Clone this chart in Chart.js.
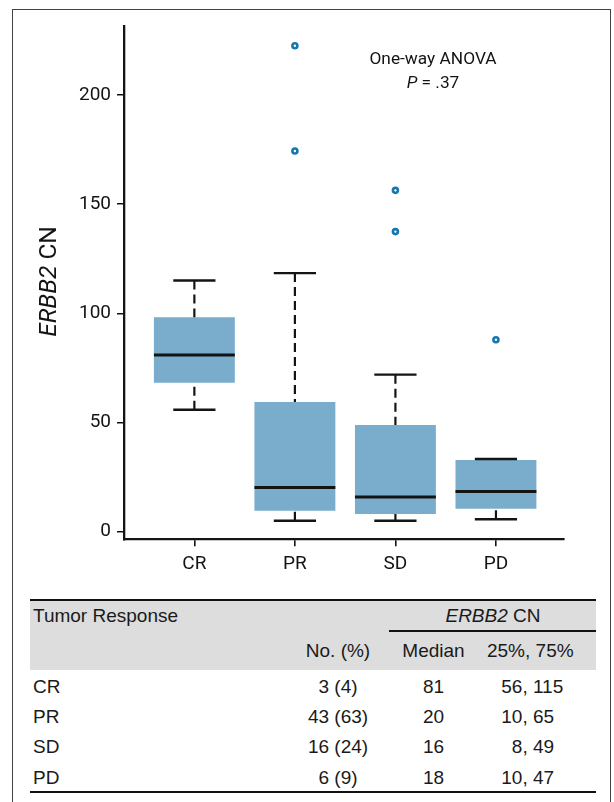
<!DOCTYPE html>
<html>
<head>
<meta charset="utf-8">
<script src="https://cdn.jsdelivr.net/npm/chart.js@4.4.1/dist/chart.umd.min.js"></script>
<style>
html,body{margin:0;padding:0;background:#fff;}
body{width:614px;height:802px;position:relative;overflow:hidden;font-family:"Liberation Sans",Arial,Helvetica,sans-serif;color:#1a1a1a;}
#frame{position:absolute;left:11.5px;top:8.7px;width:599px;height:830px;border:1.5px solid #444;box-sizing:border-box;}
#chart{position:absolute;left:0;top:0;}
.t{position:absolute;font-size:19px;line-height:30px;height:30px;white-space:pre;}
.c{text-align:center;width:200px;}
.r{text-align:right;}
.rule{position:absolute;background:#111;}
#gray{position:absolute;left:30px;top:601.3px;width:566px;height:68.7px;background:#dddddd;}
</style>
</head>
<body>
<div id="frame"></div>
<canvas id="chart" width="614" height="592"></canvas>
<div id="gray"></div>
<div class="rule" style="left:30px;top:599.4px;width:566px;height:2px;"></div>
<div class="rule" style="left:388.7px;top:630px;width:207.3px;height:2px;"></div>
<div class="rule" style="left:30px;top:790.7px;width:566px;height:2px;"></div>
<div id="table"></div>
<script>
// ---------- DATA ----------
const categories   = ['CR', 'PR', 'SD', 'PD'];
const whiskerLow   = [55.8, 5.0, 5.0, 5.7];
const q1           = [68.2, 9.6, 8.1, 10.5];
const medians      = [80.9, 20.2, 15.9, 18.4];
const q3           = [98.2, 59.4, 48.9, 32.8];
const whiskerHigh  = [115.0, 118.4, 71.9, 33.3];
const outliers     = [[], [222.5, 174.3], [156.3, 137.4], [87.9]];
const yTicks       = [0, 50, 100, 150, 200];

const tableN       = [3, 43, 16, 6];
const tablePct     = [4, 63, 24, 9];
const tableMedian  = [81, 20, 16, 18];
const tableQ25     = [56, 10, 8, 10];
const tableQ75     = [115, 65, 49, 47];

// ---------- STYLE CONSTANTS ----------
const BOX_HALF = 0.4025;
const CAP_HALF = 0.21;
const INK = '#141414';
const BOX_FILL = 'rgb(122,173,204)';
const OUTLIER = '#1577b0';
const CHART_FONT = 'Roboto';

function segments(build) {
  const pts = [];
  categories.forEach((c, i) => {
    build(i).forEach(p => pts.push(p));
    pts.push({ x: i + 0.5, y: null });
  });
  return pts;
}

const boxData = categories.map((c, i) => ({ x: i, y: [q1[i], q3[i]] }));
const medianData = segments(i => [{ x: i - BOX_HALF, y: medians[i] }, { x: i + BOX_HALF, y: medians[i] }]);
const whiskerData = segments(i => [{ x: i, y: whiskerHigh[i] }, { x: i, y: q3[i] }, { x: i + 0.5, y: null }, { x: i, y: whiskerLow[i] }, { x: i, y: q1[i] }]);
const capData = segments(i => [{ x: i - CAP_HALF, y: whiskerHigh[i] }, { x: i + CAP_HALF, y: whiskerHigh[i] }, { x: i + 0.5, y: null }, { x: i - CAP_HALF, y: whiskerLow[i] }, { x: i + CAP_HALF, y: whiskerLow[i] }]);
const outlierData = [];
outliers.forEach((list, i) => list.forEach(v => outlierData.push({ x: i, y: v })));

function drawRuns(ctx, runs, cx, y) {
  let total = 0;
  runs.forEach(r => { ctx.font = r[1]; total += ctx.measureText(r[0]).width; });
  let x = cx - total / 2;
  ctx.textBaseline = 'alphabetic';
  ctx.textAlign = 'left';
  runs.forEach(r => { ctx.font = r[1]; ctx.fillText(r[0], x, y); x += ctx.measureText(r[0]).width; });
}

const textPlugin = {
  id: 'texts',
  afterDraw(chart) {
    const ctx = chart.ctx;
    ctx.save();
    ctx.fillStyle = INK;
    ctx.save();
    ctx.translate(55.5, 281.5);
    ctx.rotate(-Math.PI / 2);
    drawRuns(ctx, [['ERBB2', 'italic 24.5px ' + CHART_FONT], [' CN', '24.5px ' + CHART_FONT]], 0, 0);
    ctx.restore();
    drawRuns(ctx, [['One-way ANOVA', '17.3px ' + CHART_FONT]], 433, 63.5);
    drawRuns(ctx, [['P', 'italic 17.3px ' + CHART_FONT], [' = .37', '17.3px ' + CHART_FONT]], 433, 87.5);
    ctx.restore();
  }
};

new Chart(document.getElementById('chart'), {
  type: 'bar',
  data: {
    datasets: [
      { type: 'scatter', data: outlierData, order: 1, pointRadius: 2.5, pointHoverRadius: 2.5,
        pointBorderWidth: 2.6, pointBorderColor: OUTLIER, pointBackgroundColor: '#ffffff', showLine: false },
      { type: 'line', data: medianData, order: 2, borderColor: INK, borderWidth: 3, pointRadius: 0, spanGaps: false, borderCapStyle: 'butt' },
      { type: 'line', data: capData, order: 3, borderColor: INK, borderWidth: 2.4, pointRadius: 0, spanGaps: false, borderCapStyle: 'butt' },
      { type: 'line', data: whiskerData, order: 4, borderColor: INK, borderWidth: 2.2, borderDash: [9, 5], pointRadius: 0, spanGaps: false, borderCapStyle: 'butt' },
      { type: 'bar', data: boxData, order: 5, backgroundColor: BOX_FILL, borderWidth: 0, borderSkipped: false,
        barPercentage: 0.805, categoryPercentage: 1 }
    ]
  },
  options: {
    responsive: false,
    animation: false,
    events: [],
    layout: { padding: { left: 0, right: 50.7, top: 25.7, bottom: 0 } },
    plugins: { legend: { display: false }, tooltip: { enabled: false }, title: { display: false } },
    scales: {
      x: {
        type: 'linear', min: -0.70, max: 3.67, offset: false,
        afterBuildTicks: s => { s.ticks = categories.map((c, i) => ({ value: i })); },
        afterFit: s => { s.height = 52.7; },
        ticks: { callback: v => categories[v] ?? '', autoSkip: false, maxRotation: 0, padding: 7,
                 color: INK, font: { family: CHART_FONT, size: 19 } },
        grid: { display: true, offset: false, drawOnChartArea: false, drawTicks: true, tickLength: 7, color: INK, lineWidth: 1.6 },
        border: { display: true, color: INK, width: 2.3 }
      },
      y: {
        type: 'linear', min: -3.5, max: 231.7, beginAtZero: false,
        afterBuildTicks: s => { s.ticks = yTicks.map(v => ({ value: v })); },
        afterFit: s => { s.width = 124; },
        ticks: { padding: 6, color: INK, font: { family: CHART_FONT, size: 19 } },
        grid: { display: true, drawOnChartArea: false, drawTicks: true, tickLength: 7, color: INK, lineWidth: 1.5 },
        border: { display: true, color: INK, width: 2.3 }
      }
    }
  },
  plugins: [textPlugin]
});

// ---------- TABLE ----------
const table = document.getElementById('table');
function addText(content, cls, style) {
  const d = document.createElement('div');
  d.className = 't ' + cls;
  if (typeof content === 'string') d.textContent = content; else d.appendChild(content);
  Object.assign(d.style, style);
  table.appendChild(d);
}
function centered(content, cx, cy) { addText(content, 'c', { left: (cx - 100) + 'px', top: (cy - 15) + 'px' }); }
function leftAt(content, x, cy) { addText(content, '', { left: x + 'px', top: (cy - 15) + 'px' }); }
function rightAt(content, x, cy) { addText(content, 'r', { right: (614 - x) + 'px', top: (cy - 15) + 'px' }); }

leftAt('Tumor Response', 33, 616.3);
const hdr = document.createElement('span');
const it = document.createElement('i'); it.textContent = 'ERBB2';
hdr.appendChild(it); hdr.appendChild(document.createTextNode(' CN'));
centered(hdr, 493, 616.3);
centered('No. (%)', 338, 651.3);
centered('Median', 433.5, 651.3);
centered('25%, 75%', 530.3, 651.3);

const rowY = [687, 717.2, 747.4, 777.6];
categories.forEach((c, i) => {
  leftAt(c, 33, rowY[i]);
  centered(tableN[i] + ' (' + tablePct[i] + ')', 338, rowY[i]);
  centered(String(tableMedian[i]), 433.5, rowY[i]);
  rightAt(tableQ25[i] + ',', 527.7, rowY[i]);
  leftAt(' ' + tableQ75[i], 527.7, rowY[i]);
});
</script>
</body>
</html>
